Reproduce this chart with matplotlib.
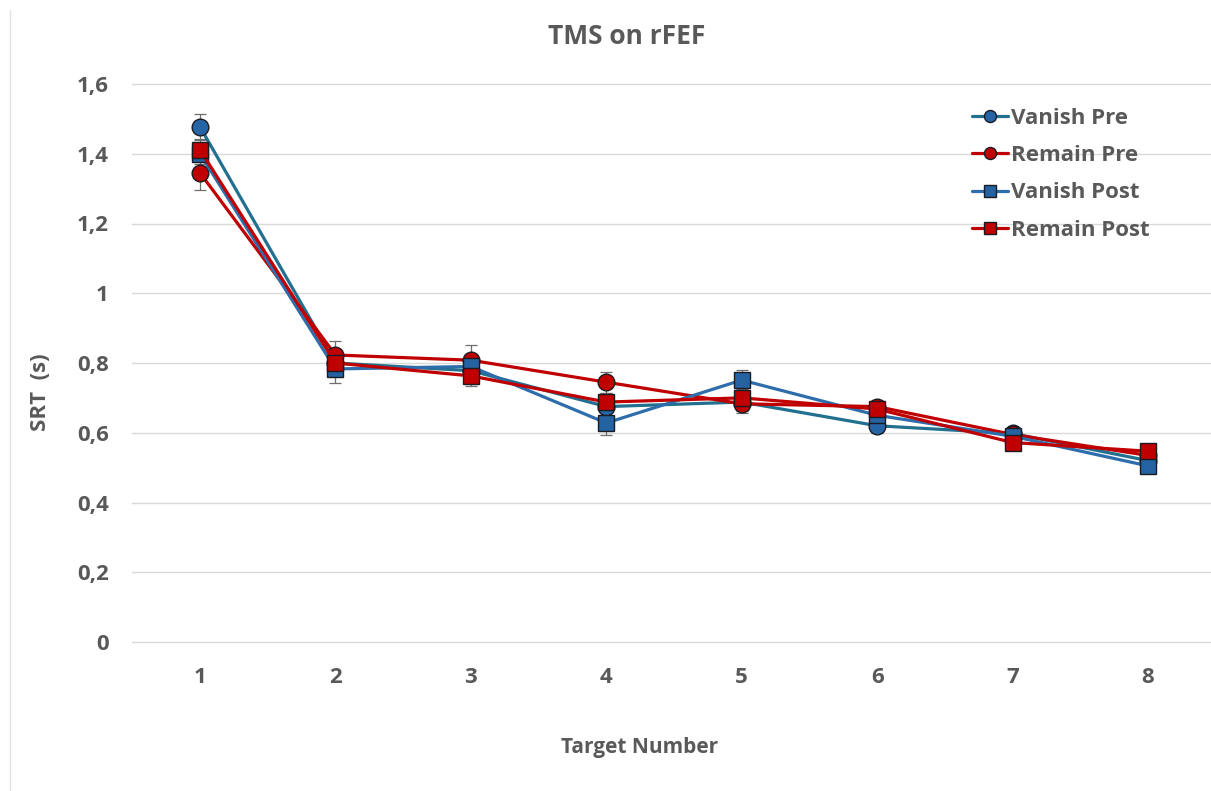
import matplotlib
matplotlib.use("Agg")
import matplotlib.pyplot as plt
from matplotlib.lines import Line2D

# ---- data ----
targets = [1, 2, 3, 4, 5, 6, 7, 8]
vanish_pre = [1.477, 0.800, 0.778, 0.675, 0.688, 0.620, 0.598, 0.520]
remain_pre = [1.345, 0.823, 0.808, 0.745, 0.683, 0.675, 0.595, 0.535]
vanish_post = [1.400, 0.783, 0.790, 0.628, 0.751, 0.650, 0.590, 0.505]
remain_post = [1.411, 0.800, 0.763, 0.688, 0.700, 0.668, 0.572, 0.547]

vanish_pre_err = [0.037, 0.035, 0.030, 0.025, 0.025, 0.020, 0.015, 0.015]
remain_pre_err = [0.049, 0.040, 0.043, 0.030, 0.026, 0.020, 0.015, 0.015]
vanish_post_err = [0.030, 0.040, 0.030, 0.034, 0.030, 0.020, 0.015, 0.015]
remain_post_err = [0.030, 0.035, 0.030, 0.025, 0.025, 0.020, 0.015, 0.015]

series_names = ["Vanish Pre", "Remain Pre", "Vanish Post", "Remain Post"]
y_ticks = [0, 0.2, 0.4, 0.6, 0.8, 1.0, 1.2, 1.4, 1.6]
y_tick_labels = ["0", "0,2", "0,4", "0,6", "0,8", "1", "1,2", "1,4", "1,6"]
title = "TMS on rFEF"
x_label = "Target Number"
y_label = "SRT  (s)"

# ---- style ----
TEXT = "#595959"
GRID = "#D9D9D9"
EDGE = "#1B1B24"
FONT = "Open Sans"

styles = [
    dict(line="#21708F", face="#2565A5", marker="o"),
    dict(line="#C00000", face="#C00000", marker="o"),
    dict(line="#2E6DAB", face="#2462A1", marker="s"),
    dict(line="#C00000", face="#C00000", marker="s"),
]

fig = plt.figure(figsize=(12.11, 7.91), dpi=100)
fig.patch.set_facecolor("white")

# chart area border (left edge visible)
fig.add_artist(Line2D([10.5 / 1211, 10.5 / 1211], [0, 1 - 10 / 791],
                      transform=fig.transFigure, color="#E3E3E3", linewidth=1.0))

ax = fig.add_axes([132.3 / 1211, (791 - 642) / 791,
                   (1215.7 - 132.3) / 1211, 558 / 791])
ax.set_facecolor("none")

all_vals = [vanish_pre, remain_pre, vanish_post, remain_post]
all_errs = [vanish_pre_err, remain_pre_err, vanish_post_err, remain_post_err]

for i, (vals, errs, name, st) in enumerate(zip(all_vals, all_errs, series_names, styles)):
    ax.errorbar(targets, vals, yerr=errs, fmt="none", ecolor="#6E6E6E",
                elinewidth=0.9, capsize=4, capthick=0.9, zorder=2 + i * 0.1)
    ax.plot(targets, vals, color=st["line"], linewidth=2.3,
            marker=st["marker"], markersize=12, markerfacecolor=st["face"],
            markeredgecolor=EDGE, markeredgewidth=1.0, label=name,
            zorder=3 + i, solid_capstyle="round")

ax.set_xlim(0.5, 8.5)
ax.set_ylim(0, 1.6)
ax.set_yticks(y_ticks)
ax.set_yticklabels(y_tick_labels)
ax.set_xticks(targets)
ax.set_xticklabels([str(t) for t in targets])
ax.yaxis.grid(True, color=GRID, linewidth=1.0)
for gl in ax.get_ygridlines():
    gl.set_clip_on(False)
ax.set_axisbelow(True)
for s in ax.spines.values():
    s.set_visible(False)
ax.tick_params(length=0, labelsize=16, labelcolor=TEXT)
ax.tick_params(axis="y", pad=17)
ax.tick_params(axis="x", pad=18)
for lab in ax.get_xticklabels() + ax.get_yticklabels():
    lab.set_fontfamily(FONT)
    lab.set_fontweight("bold")

fig.text(627 / 1211, 1 - 37 / 791, title, ha="center", va="center",
         fontsize=19, fontweight="bold", color=TEXT, family=FONT)
fig.text(640 / 1211, 1 - 747 / 791, x_label, ha="center", va="center",
         fontsize=15, fontweight="bold", color=TEXT, family=FONT)
fig.text(40 / 1211, 1 - 392 / 791, y_label, ha="center", va="center",
         rotation=90, fontsize=16, fontweight="bold", color=TEXT, family=FONT)

leg = ax.legend(loc="upper left", bbox_to_anchor=(972 / 1211, 1 - 108 / 791),
                bbox_transform=fig.transFigure, frameon=False,
                prop=dict(family=FONT, weight="bold", size=16),
                markerscale=0.72, handlelength=1.6, handletextpad=0.15,
                labelspacing=0.73, borderaxespad=0, borderpad=0)
for t in leg.get_texts():
    t.set_color(TEXT)

fig.savefig("out.png", dpi=100, facecolor="white")
